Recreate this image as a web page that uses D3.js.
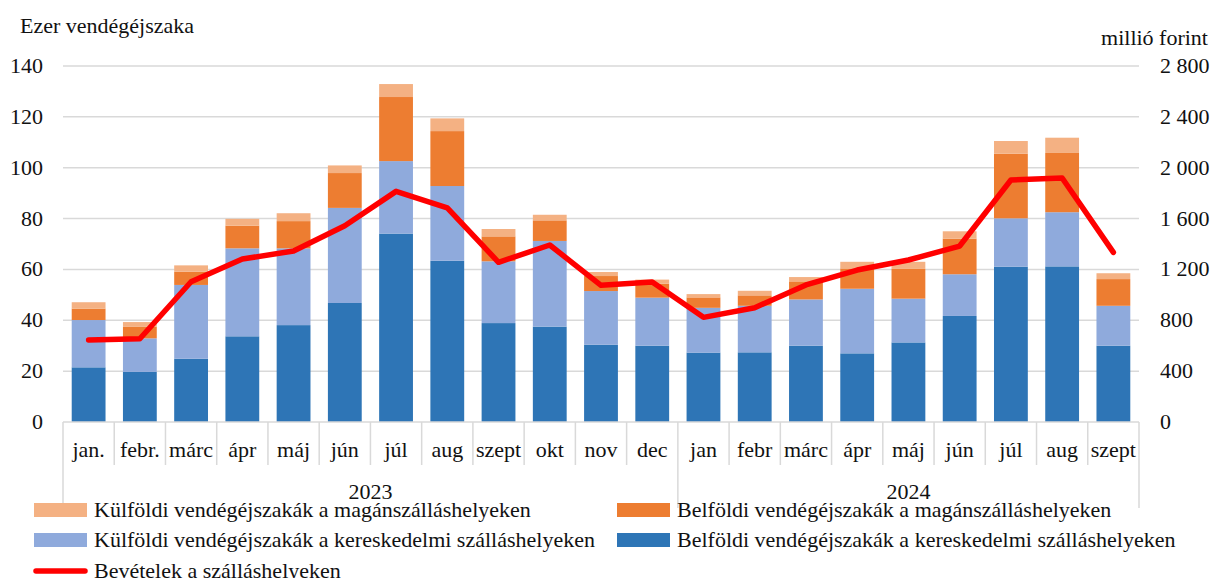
<!DOCTYPE html>
<html>
<head>
<meta charset="utf-8">
<script src="https://cdn.jsdelivr.net/npm/d3@7"></script>
<style>
  body { margin: 0; background: #fff; }
</style>
</head>
<body>
<div id="chart"></div>
<script>
// months, two years
let months = ['jan.', 'febr.', 'márc', 'ápr', 'máj', 'jún', 'júl', 'aug', 'szept', 'okt', 'nov', 'dec',
              'jan', 'febr', 'márc', 'ápr', 'máj', 'jún', 'júl', 'aug', 'szept']
let years = [{name: '2023', from: 0, to: 12}, {name: '2024', from: 12, to: 21}]

// ezer vendégéjszaka
let belfKeresk = [21.5, 19.7, 24.9, 33.7, 38.1, 46.8, 74.1, 63.4, 38.9, 37.5, 30.4, 30.0,
                  27.3, 27.4, 30.0, 27.0, 31.3, 41.7, 61.1, 61.2, 30.0]
let kulfKeresk = [18.6, 13.2, 29.0, 34.6, 30.2, 37.4, 28.5, 29.4, 24.3, 33.7, 21.1, 18.9,
                  17.6, 18.3, 18.2, 25.4, 17.2, 16.4, 19.0, 21.3, 15.7]
let belfMagan  = [4.5, 4.5, 5.2, 8.9, 10.7, 13.7, 25.2, 21.6, 9.8, 8.1, 5.9, 5.5,
                  4.1, 4.1, 7.1, 8.0, 11.7, 14.0, 25.4, 23.3, 10.5]
let kulfMagan  = [2.5, 1.9, 2.5, 2.7, 3.1, 3.0, 5.1, 5.0, 2.9, 2.2, 1.6, 1.6,
                  1.3, 1.8, 1.7, 2.6, 2.8, 2.9, 5.0, 6.0, 2.3]

// millió forint
let bevetel = [645, 655, 1103, 1282, 1345, 1544, 1814, 1685, 1256, 1392, 1075, 1101,
               823, 899, 1078, 1195, 1274, 1384, 1903, 1919, 1334]

let leftTicks = [0, 20, 40, 60, 80, 100, 120, 140]
let rightTicks = [0, 400, 800, 1200, 1600, 2000, 2400, 2800]

let series = [
    {key: 'bk', name: 'Belföldi vendégéjszakák a kereskedelmi szálláshelyeken', values: belfKeresk, color: '#2E75B6'},
    {key: 'kk', name: 'Külföldi vendégéjszakák a kereskedelmi szálláshelyeken', values: kulfKeresk, color: '#8FAADC'},
    {key: 'bm', name: 'Belföldi vendégéjszakák a magánszálláshelyeken', values: belfMagan, color: '#ED7D31'},
    {key: 'km', name: 'Külföldi vendégéjszakák a magánszálláshelyeken', values: kulfMagan, color: '#F4B183'}
]

let width = 1213, height = 578
let plotLeft = 63, plotRight = 1139, plotTop = 66, plotBottom = 422
let fontSize = 22

let svg = d3.select('#chart').append('svg')
    .attr('width', width)
    .attr('height', height)
    .attr('font-family', "'Liberation Serif', 'DejaVu Serif', serif")
    .attr('font-size', fontSize)
    .attr('fill', '#111')

let xScale = d3.scaleBand()
    .domain(d3.range(months.length))
    .range([plotLeft, plotRight])
    .paddingInner(0.34)
    .paddingOuter(0.17)

let yScale = d3.scaleLinear().domain([0, 140]).range([plotBottom, plotTop])
let y2Scale = d3.scaleLinear().domain([0, 2800]).range([plotBottom, plotTop])

// gridlines
svg.append('g')
    .selectAll('line')
    .data(leftTicks.slice(1))
    .enter().append('line')
    .attr('x1', plotLeft).attr('x2', plotRight)
    .attr('y1', d => yScale(d)).attr('y2', d => yScale(d))
    .attr('stroke', '#d9d9d9')
    .attr('stroke-width', 1.5)

// stacked bars
let table = months.map(function(m, i){
    let row = {i: i}
    series.forEach(s => row[s.key] = s.values[i])
    return row
})
let stacked = d3.stack().keys(series.map(s => s.key))(table)

svg.append('g')
    .selectAll('g')
    .data(stacked)
    .enter().append('g')
    .attr('fill', (d, i) => series[i].color)
    .selectAll('rect')
    .data(d => d)
    .enter().append('rect')
    .attr('x', d => xScale(d.data.i))
    .attr('width', xScale.bandwidth())
    .attr('y', d => yScale(d[1]))
    .attr('height', d => yScale(d[0]) - yScale(d[1]))

// x axis with category separators
let step = (plotRight - plotLeft) / months.length
let axisG = svg.append('g')
axisG.append('line')
    .attr('x1', plotLeft).attr('x2', plotRight)
    .attr('y1', plotBottom).attr('y2', plotBottom)
    .attr('stroke', '#d9d9d9').attr('stroke-width', 1.5)

let edges = d3.range(months.length + 1)
axisG.selectAll('line.sep')
    .data(edges)
    .enter().append('line')
    .attr('class', 'sep')
    .attr('x1', d => plotLeft + d * step).attr('x2', d => plotLeft + d * step)
    .attr('y1', plotBottom)
    .attr('y2', d => (d == 0 || d == 12 || d == months.length) ? 508 : 465)
    .attr('stroke', '#d9d9d9').attr('stroke-width', 1.5)

axisG.selectAll('text.month')
    .data(months)
    .enter().append('text')
    .attr('class', 'month')
    .attr('x', (d, i) => xScale(i) + xScale.bandwidth() / 2)
    .attr('y', 457)
    .attr('text-anchor', 'middle')
    .text(d => d)

axisG.selectAll('text.year')
    .data(years)
    .enter().append('text')
    .attr('class', 'year')
    .attr('x', d => plotLeft + (d.from + d.to) / 2 * step)
    .attr('y', 499)
    .attr('text-anchor', 'middle')
    .text(d => d.name)

// y axes labels
svg.append('g')
    .selectAll('text')
    .data(leftTicks)
    .enter().append('text')
    .attr('x', 43)
    .attr('y', d => yScale(d) + 7)
    .attr('text-anchor', 'end')
    .text(d => d)

let fmt = d => d3.format(',')(d).replace(',', '\u00a0')
svg.append('g')
    .selectAll('text')
    .data(rightTicks)
    .enter().append('text')
    .attr('x', 1160)
    .attr('y', d => y2Scale(d) + 7)
    .text(d => fmt(d))

svg.append('text')
    .attr('x', 20).attr('y', 33)
    .text('Ezer vendégéjszaka')

svg.append('text')
    .attr('x', 1208).attr('y', 45)
    .attr('text-anchor', 'end')
    .text('millió forint')

// revenue line
svg.append('path')
    .datum(bevetel)
    .attr('fill', 'none')
    .attr('stroke', '#FF0000')
    .attr('stroke-width', 5.5)
    .attr('stroke-linejoin', 'round')
    .attr('stroke-linecap', 'round')
    .attr('d', d3.line()
        .x((d, i) => xScale(i) + xScale.bandwidth() / 2)
        .y(d => y2Scale(d)))

// legend
let legendItems = [
    {s: series[3], x: 34, y: 517},
    {s: series[2], x: 617, y: 517},
    {s: series[1], x: 34, y: 547},
    {s: series[0], x: 617, y: 547}
]
let legend = svg.append('g')
legendItems.forEach(function(d){
    legend.append('rect')
        .attr('x', d.x).attr('y', d.y - 14)
        .attr('width', 53).attr('height', 14)
        .attr('fill', d.s.color)
    legend.append('text')
        .attr('x', d.x + 60).attr('y', d.y)
        .text(d.s.name)
})
legend.append('line')
    .attr('x1', 36).attr('x2', 85)
    .attr('y1', 571).attr('y2', 571)
    .attr('stroke', '#FF0000').attr('stroke-width', 5.5)
    .attr('stroke-linecap', 'round')
legend.append('text')
    .attr('x', 94).attr('y', 578)
    .text('Bevételek a szálláshelyeken')
</script>
</body>
</html>
